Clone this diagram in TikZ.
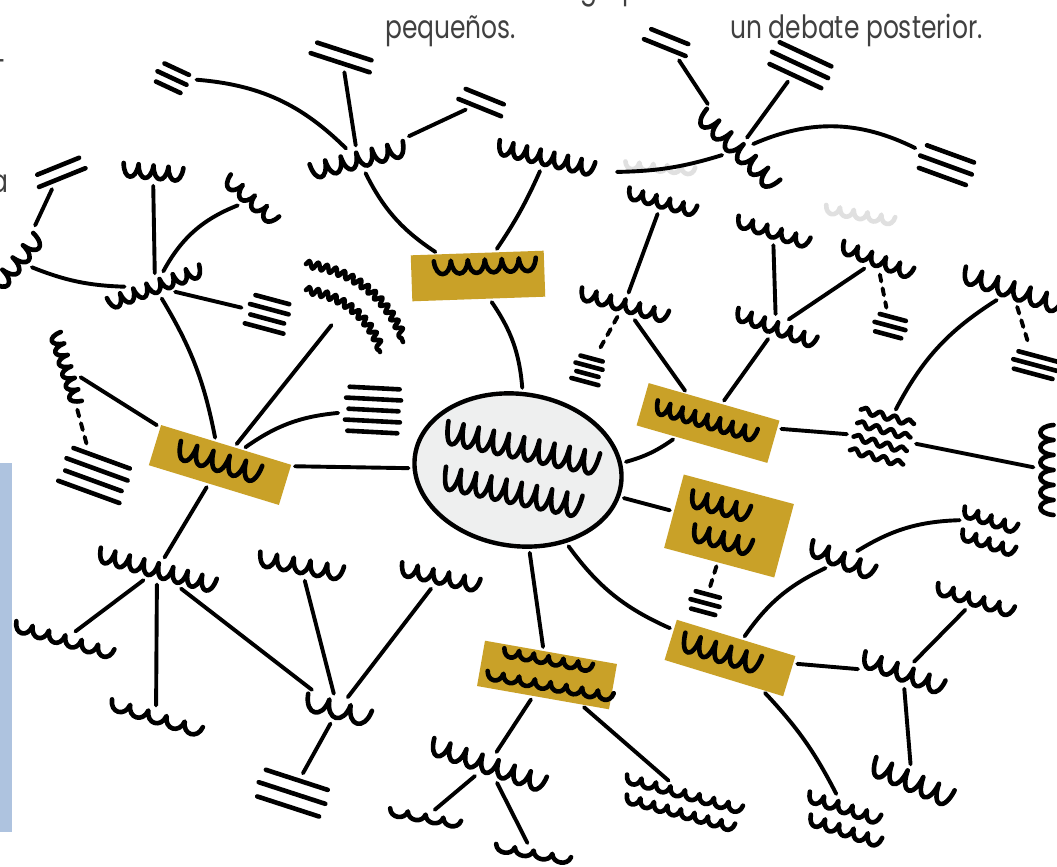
\documentclass[tikz,border=0pt]{standalone}
\usepackage{fontspec}
\newfontfamily\capfont{Poppins}[FakeStretch=0.78]
\usetikzlibrary{shapes.geometric,decorations.pathmorphing}
\definecolor{goldc}{RGB}{201,161,40}
\definecolor{hubgrey}{RGB}{238,239,239}
\definecolor{barblue}{RGB}{174,195,223}
\tikzset{
  pen/.style={line width=4.6pt, line cap=round, line join=round},
  link/.style={line width=3.9pt, line cap=round, shorten <=4pt, shorten >=4pt},
  dotlink/.style={link, dash pattern=on 7pt off 7pt},
  spot/.style={inner sep=0pt, transform shape},
  gold/.style={fill=goldc, inner sep=0pt},
  hub/.style={ellipse, draw, line width=4.4pt, fill=hubgrey, minimum width=208, minimum height=152, rotate=-8},
  ghost/.style={color=black!12},
  txt/.style={font=\capfont\fontsize{32}{34}\selectfont, text=black!75, inner sep=0pt},
  % scribble: letters / width / depth
  pics/uu/.style n args={3}{code={
    \node[spot, minimum width={#1*#2+6}, minimum height={#3+6}] (-c) {};
    \draw[pen] ({-#1*#2/2},{-#3/2}) \foreach \k in {1,...,#1}{
      .. controls +({0.1*#2},{1.35*#3}) and +({-0.1*#2},{1.35*#3}) .. ++(#2,0)};
  }},
  % stacked strokes: lines / length / gap
  pics/eq/.style n args={3}{code={
    \node[spot, minimum width={#2+6}, minimum height={(#1-1)*#3+8}] (-c) {};
    \foreach \k in {1,...,#1}
      \draw[pen] ({-#2/2+3*mod(\k,2)},{(\k-1-(#1-1)/2)*#3}) -- ++({#2-5*mod(\k,2)},0);
  }},
  pics/wv/.style n args={3}{code={
    \node[spot, minimum width={#2+6}, minimum height={(#1-1)*#3+10}] (-c) {};
    \foreach \k in {1,...,#1}
      \draw[pen, decorate, decoration={snake, amplitude=3pt, segment length=15pt}]
        ({-#2/2},{(\k-1-(#1-1)/2)*#3}) -- ++(#2,0);
  }},
}
\begin{document}
\begin{tikzpicture}[x=1pt, y=-1pt]
\useasboundingbox (0,0) rectangle (1057,867);
\clip (0,0) rectangle (1057,867);
\fill[white] (0,0) rectangle (1057,867);

% text lines at the top
\node[txt, anchor=base west] (grp) at (580,-1) {grupos};
\node[txt, anchor=base west] (peq) at (385,38) {pequeños.};
\node[txt, anchor=base west] (deb) at (730,38) {un debate posterior.};
\node[txt, anchor=base east] (lefth) at (6,73) {-};
\node[txt, anchor=base east] (lefta) at (9,192) {a};
\fill[barblue] (0,463) rectangle (12,832);

% faint marks seen through the paper
\pic[ghost, rotate=-5] (gh1) at (660,168) {uu={5}{14}{7}};
\pic[ghost, rotate=-10] (gh2) at (860,215) {uu={5}{14}{8}};

% top sheet
\pic[rotate=-25] (e1) at (172,78) {eq={3}{32}{10}};
\pic[rotate=-18] (e2) at (342,57) {eq={2}{62}{12}};
\pic[rotate=-22] (e3) at (482,102) {eq={2}{46}{12}};
\pic[rotate=14] (t1) at (358,160) {uu={6}{16}{15}};
\pic[rotate=-13] (t2) at (546,158) {uu={7}{14}{14}};
\pic[rotate=-22] (e4) at (667,42) {eq={2}{45}{12}};
\pic[rotate=-25] (e5) at (800,65) {eq={3}{62}{12}};
\pic[rotate=-44] (tr1) at (738,150) {uu={6}{17}{16}};
\pic[rotate=-20] (e6) at (946,165) {eq={3}{55}{12}};
\coordinate (tail) at (613,172);

% left sheet
\pic[rotate=22] (e7) at (60,172) {eq={2}{50}{12}};
\pic[rotate=50] (l0) at (18,262) {uu={4}{16}{14}};
\pic[rotate=-5] (l1) at (153,172) {uu={4}{15}{13}};
\pic[rotate=-41] (l2) at (251,200) {uu={4}{16}{12}};
\pic[rotate=20] (l3) at (155,287) {uu={7}{14}{12}};
\pic[rotate=-15] (e8) at (268,314) {eq={4}{40}{10}};
\draw[pen, decorate, decoration={snake, amplitude=3.5pt, segment length=9pt}] (306,264) to[bend left=30] (403,342);
\draw[pen, decorate, decoration={snake, amplitude=3.5pt, segment length=9pt}] (306,290) to[bend left=30] (380,352);
\coordinate (arc) at (334,322);
\pic[rotate=-3] (e9) at (373,410) {eq={5}{55}{11}};
\pic[rotate=-73] (lv) at (66,368) {uu={6}{12}{11}};
\pic[rotate=-20] (e10) at (95,475) {eq={4}{65}{12}};

% centre and coloured boxes
\node[hub] (hub) at (518,470) {};
\pic[rotate=-12] (hr1) at (522,448) {uu={10}{15.5}{22}};
\pic[rotate=-12] (hr2) at (512,492) {uu={9}{15.5}{22}};
\node[gold, minimum width=133, minimum height=46, rotate=2] (g1) at (478,276) {};
\node[gold, minimum width=136, minimum height=42, rotate=-17] (g2) at (220,465) {};
\node[gold, minimum width=136, minimum height=44, rotate=-16] (g3) at (708,423) {};
\node[gold, minimum width=114, minimum height=76, rotate=-15] (g4) at (729,526) {};
\node[gold, minimum width=124, minimum height=42, rotate=-17] (g5) at (730,658) {};
\node[gold, minimum width=134, minimum height=46, rotate=-10] (g6) at (547,675) {};
\pic[rotate=2] (s1) at (485,266) {uu={6}{17}{13}};
\pic[rotate=-17] (s2) at (219,462) {uu={5}{17}{18}};
\pic[rotate=-16] (s3) at (706,421) {uu={8}{13}{13}};
\pic[rotate=-15] (s4) at (720,506) {uu={4}{15}{16}};
\pic[rotate=-15] (s4b) at (722,540) {uu={4}{15}{16}};
\pic[rotate=-17] (s5) at (721,653) {uu={5}{16}{18}};
\pic[rotate=-10] (s6) at (548,660) {uu={6}{15}{8}};
\pic[rotate=-10] (s6b) at (550,686) {uu={8}{16}{8}};

% bottom left
\pic[rotate=-15] (b1) at (157,570) {uu={8}{15}{14}};
\pic[rotate=-10] (b2) at (301,566) {uu={5}{17}{14}};
\pic[rotate=-12] (b3) at (440,577) {uu={5}{16}{13}};
\pic[rotate=-16] (b4) at (64,640) {uu={6}{17}{10}};
\pic[rotate=-17] (b5) at (156,718) {uu={5}{19}{10}};
\pic[rotate=-15] (b6) at (338,710) {uu={3}{22}{16}};
\pic[rotate=-18] (e11) at (292,793) {eq={3}{70}{14}};
\pic[rotate=-19] (b7) at (488,765) {uu={7}{17}{16}};
\pic[rotate=-10] (b8) at (425,818) {uu={4}{18}{7}};
\pic[rotate=-10] (b9) at (533,854) {uu={4}{19}{7}};
\pic[rotate=-15] (bw) at (684,794) {uu={8}{15}{8}};
\pic[rotate=-15] (bwb) at (680,813) {uu={8}{14}{8}};

% right
\pic[rotate=-15] (u1) at (624,305) {uu={6}{15}{12}};
\pic[rotate=-15] (e12) at (588,370) {eq={4}{28}{8}};
\pic[rotate=-20] (u2) at (776,328) {uu={6}{14}{12}};
\pic[rotate=-15] (u3) at (662,202) {uu={5}{14}{11}};
\pic[rotate=-17] (u4) at (773,232) {uu={5}{15}{11}};
\pic[rotate=-21] (u5) at (877,260) {uu={5}{15}{12}};
\pic[rotate=-15] (e14) at (890,326) {eq={3}{32}{9}};
\pic[rotate=-18] (u6) at (1012,290) {uu={6}{17}{16}};
\pic[rotate=-15] (e15) at (1035,365) {eq={3}{45}{9}};
\pic[rotate=-15] (wv) at (882,437) {wv={4}{55}{14}};
\pic[rotate=-90] (rv) at (1047,470) {uu={6}{15}{13}};
\pic[rotate=-22] (r5) at (842,560) {uu={4}{17}{15}};
\pic[rotate=-18] (r6) at (990,520) {uu={4}{14}{10}};
\pic[rotate=-18] (r6b) at (988,543) {uu={4}{14}{10}};
\pic[rotate=-15] (e13) at (705,603) {eq={3}{30}{9}};
\pic[rotate=-20] (r1) at (903,673) {uu={5}{17}{15}};
\pic[rotate=-17] (r2) at (975,600) {uu={5}{16}{11}};
\pic[rotate=-23] (r3) at (912,782) {uu={5}{17}{18}};
\pic[rotate=-18] (r4) at (844,808) {uu={5}{15}{10}};
\pic[rotate=-18] (r4b) at (845,831) {uu={5}{15}{10}};

% connectors
\draw[link] (e1-c) to[bend left=20] (t1-c);
\draw[link] (e2-c) -- (t1-c);
\draw[link] (e3-c) -- (t1-c);
\draw[link] (t1-c) to[bend right=15] (g1);
\draw[link] (t2-c) to[bend left=5] (g1);
\draw[link] (e4-c) -- (tr1-c);
\draw[link] (e5-c) -- (tr1-c);
\draw[link] (tr1-c) to[bend left=25] (e6-c);
\draw[link] (tail) to[bend right=8] (tr1-c);
\draw[link] (e7-c) -- (l0-c);
\draw[link] (l1-c) -- (l3-c);
\draw[link] (l2-c) to[bend right=20] (l3-c);
\draw[link] (l0-c) to[bend right=10] (l3-c);
\draw[link] (l3-c) -- (e8-c);
\draw[link] (l3-c) to[bend left=10] (g2);
\draw[link] (arc) -- (g2);
\draw[link] (e9-c) to[bend right=15] (g2);
\draw[link] (lv-c) -- (g2);
\draw[dotlink] (lv-c) -- (e10-c);
\draw[link] (g2) -- (hub);
\draw[link] (g2) -- (b1-c);
\draw[link] (b1-c) -- (b4-c);
\draw[link] (b1-c) -- (b5-c);
\draw[link] (b1-c) -- (b6-c);
\draw[link] (b2-c) -- (b6-c);
\draw[link] (b3-c) -- (b6-c);
\draw[link] (b6-c) -- (e11-c);
\draw[link] (g1) to[bend left=15] (hub);
\draw[link] (hub) to[bend right=10] (g3);
\draw[link] (hub) -- (g4);
\draw[link] (hub) -- (g6);
\draw[link] (hub) to[bend right=15] (g5);
\draw[link] (g6) -- (b7-c);
\draw[link] (g6) -- (bw-c);
\draw[link] (b7-c) -- (b8-c);
\draw[link] (b7-c) -- (b9-c);
\draw[dotlink] (u1-c) -- (e12-c);
\draw[link] (u1-c) -- (g3);
\draw[link] (u2-c) -- (g3);
\draw[link] (u3-c) -- (u1-c);
\draw[link] (u4-c) -- (u2-c);
\draw[link] (u5-c) -- (u2-c);
\draw[dotlink] (u5-c) -- (e14-c);
\draw[link] (g3) -- (wv-c);
\draw[link] (wv-c) to[bend left=15] (u6-c);
\draw[dotlink] (u6-c) -- (e15-c);
\draw[link] (wv-c) -- (rv-c);
\draw[link] (r5-c) to[bend left=15] (r6-c);
\draw[link] (r5-c) to[bend right=15] (g5);
\draw[dotlink] (g4) -- (e13-c);
\draw[link] (g5) -- (r1-c);
\draw[link] (r2-c) -- (r1-c);
\draw[link] (r1-c) -- (r3-c);
\draw[link] (g5) to[bend left=8] (r4-c);
\end{tikzpicture}
\end{document}
